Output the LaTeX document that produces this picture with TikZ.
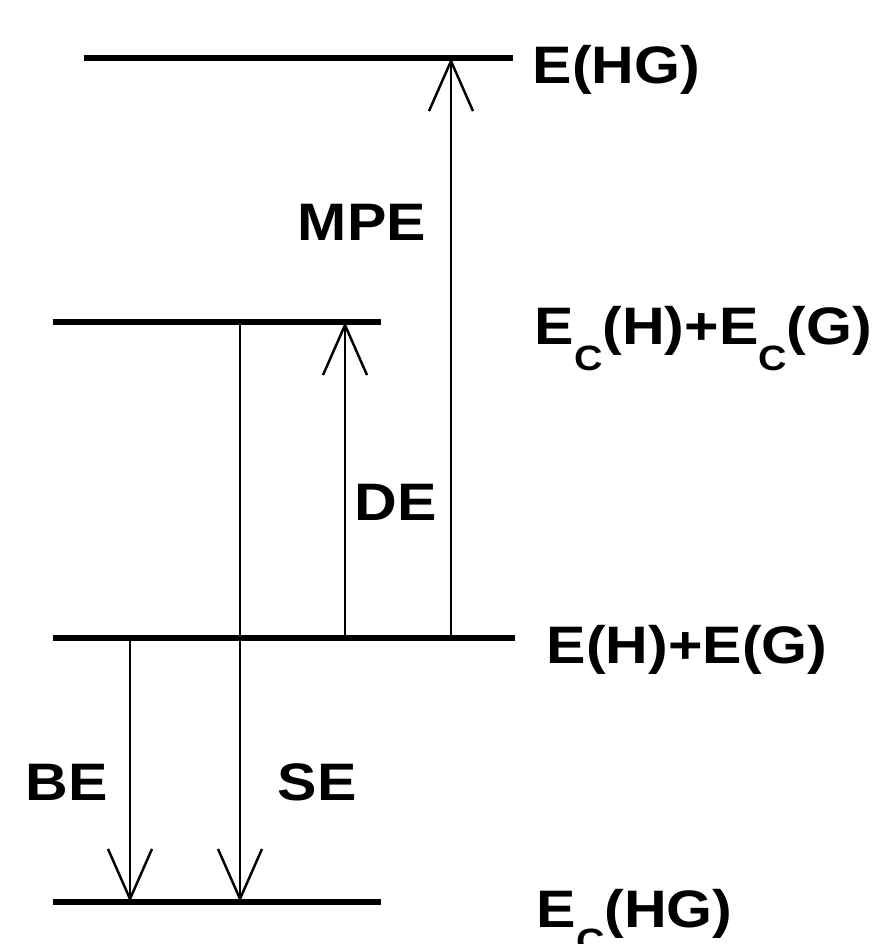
\documentclass[tikz,border=0pt]{standalone}
\usepackage{fontspec}
\setmainfont{Liberation Sans}[FakeStretch=1.12]
\usetikzlibrary{arrows.meta}
\newcommand\lvC{\raisebox{-7.4pt}{\fontsize{10}{10}\selectfont C}}

\begin{document}
\begin{tikzpicture}[x=0.01cm,y=-0.01cm,
  level/.style={line width=1.9pt},
  trans/.style={line width=0.7pt,-{Straight Barb[length=0.5cm,width=0.44cm,line width=0.7pt]}},
  lbl/.style={anchor=base west,inner sep=0pt,font=\fontsize{15}{18}\selectfont\bfseries},
  tag/.style={anchor=base,inner sep=0pt,font=\fontsize{15}{18}\selectfont\bfseries}]
\useasboundingbox (0,0) rectangle (880,944);
% energy levels
\coordinate (hgL) at (84,58);   \coordinate (hgR) at (513,58);
\coordinate (cpL) at (53,322);  \coordinate (cpR) at (381,322);
\coordinate (sepL) at (53,638); \coordinate (sepR) at (515,638);
\coordinate (chgL) at (53,902); \coordinate (chgR) at (381,902);
\draw[level] (hgL)--(hgR);
\draw[level] (cpL)--(cpR);
\draw[level] (sepL)--(sepR);
\draw[level] (chgL)--(chgR);
% arrow columns
\coordinate (be) at (130,0);
\coordinate (se) at (240,0);
\coordinate (de) at (345,0);
\coordinate (mpe) at (451,0);
\draw[trans] (mpe |- sepL)--(mpe |- hgL);
\draw[trans] (de |- sepL)--(de |- cpL);
\draw[trans] (se |- cpL)--(se |- chgL);
\draw[trans] (be |- sepL)--(be |- chgL);
% labels
\node[lbl] (tHG) at (532,83) {E(HG)};
\node[lbl] (tCHCG) at (534,344) {E\lvC(H)+E\lvC(G)};
\node[lbl] (tHpG) at (546,663) {E(H)+E(G)};
\node[lbl] (tCHG) at (536,927) {E\lvC(HG)};
\node[tag] (tMPE) at (362,240) {MPE};
\node[tag] (tDE) at (396,520) {DE};
\node[tag] (tBE) at (67,800) {BE};
\node[tag] (tSE) at (317,800) {SE};
\end{tikzpicture}
\end{document}
